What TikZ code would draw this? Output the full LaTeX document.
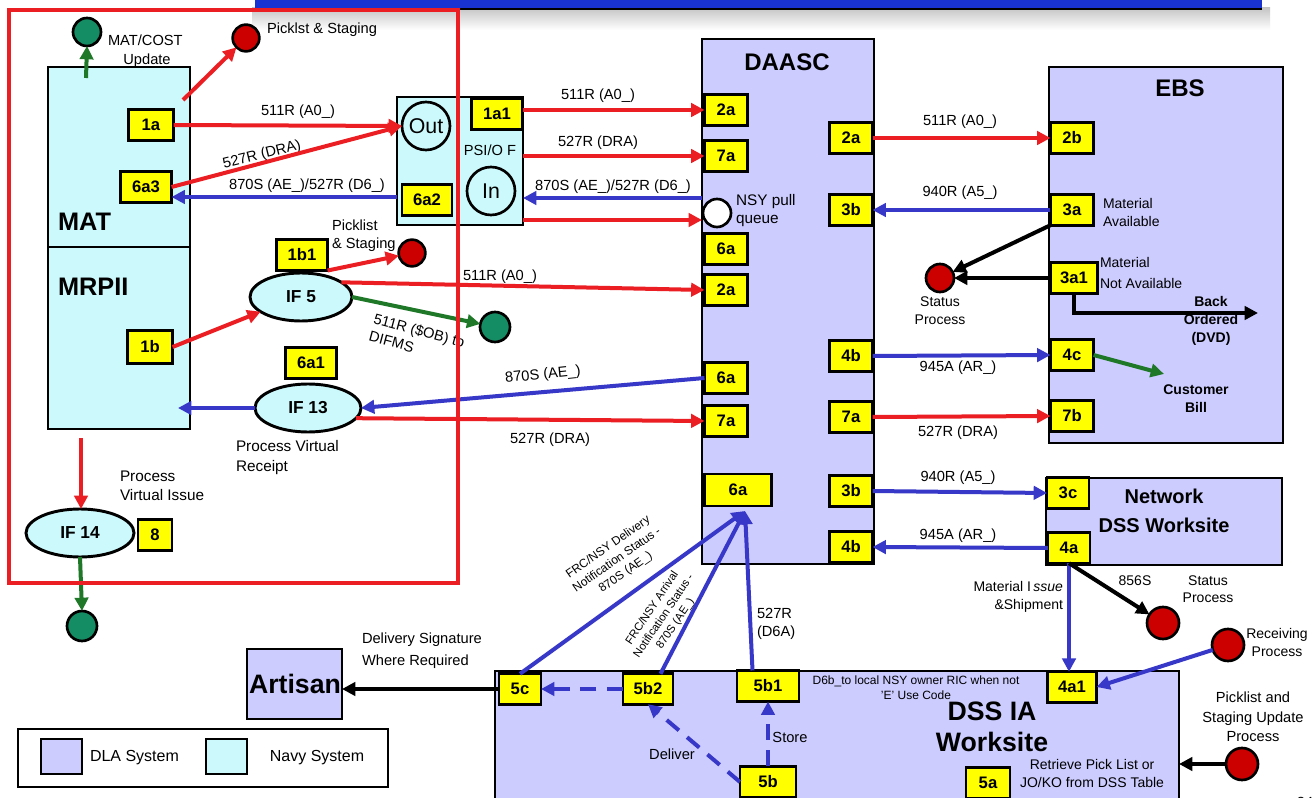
\documentclass[tikz,border=0pt]{standalone}
\usepackage{fontspec}
\setmainfont{Liberation Sans}
\usetikzlibrary{arrows.meta,shapes.geometric,calc,fit}
\newcommand\fsz[2]{\fontsize{#1}{#2}\selectfont}
\definecolor{navy}{RGB}{204,250,252}
\definecolor{dla}{RGB}{204,204,255}
\definecolor{ared}{RGB}{235,30,35}
\definecolor{ablue}{RGB}{55,55,200}
\definecolor{agreen}{RGB}{30,120,40}
\definecolor{gfill}{RGB}{20,140,100}
\definecolor{rfill}{RGB}{205,0,0}
\definecolor{bannerc}{RGB}{25,50,210}
\definecolor{yel}{RGB}{255,255,0}
\begin{document}
\begin{tikzpicture}[x=0.75pt,y=-0.75pt,
  every node/.style={inner sep=0pt,outer sep=0pt},
  lbl/.style={font=\fsz{11}{13.5}},
  sml/.style={font=\fsz{9}{11.5}},
  bld/.style={font=\bfseries\fsz{11}{13.5}},
  ybox/.style={draw,line width=2.2pt,fill=yel,minimum width=32.3pt,minimum height=22.8pt,font=\bfseries\fsz{12.5}{14}},
  navybox/.style={draw,line width=2.2pt,fill=navy,inner sep=0pt},
  dlabox/.style={draw,line width=2.2pt,fill=dla,inner sep=0pt},
  ell/.style={ellipse,draw,line width=2.2pt,fill=navy,minimum height=36pt,font=\bfseries\fsz{13}{15}},
  circ/.style={circle,draw,line width=2pt},
  gdot/.style={circ,fill=gfill,minimum size=21pt},
  rdot/.style={circ,fill=rfill,minimum size=20pt},
  conn/.style={line width=3pt,-{Triangle[length=10pt,width=10pt]}},
  rarr/.style={conn,draw=ared},
  barr/.style={conn,draw=ablue},
  garr/.style={conn,draw=agreen},
  karr/.style={conn,draw=black},
  dsh/.style={dash pattern=on 12pt off 8pt},
]
\clip (0,0) rectangle (1313,798);
\fill[white] (0,0) rectangle (1313,798);
% banner
\shade[top color=gray!45,bottom color=white] (252,8) rectangle (1270,30);
\fill[bannerc] (255,-2) rectangle (1262,9);
\draw[line width=1.5pt] (255,9) -- (1262,9);

% ---------- Navy side ----------
\node[lbl] (tupd) at (147,61) {Update};
\node[navybox,fit={(48,67) (190,429)}] (mat) {};
\draw[line width=1.5pt] (48,247) -- (190,247);
\node[font=\bfseries\fsz{19}{21},anchor=west] (tmat) at (58,222) {MAT};
\node[font=\bfseries\fsz{19}{21},anchor=west] (tmrp) at (58,287) {MRPII};
\node[lbl,anchor=west] (tmc) at (108,40) {MAT/COST};
\node[gdot] (gtop) at (87,32) {};
\node[rdot] (rtop) at (246,38) {};
\node[lbl,anchor=west] (tps) at (267,30) {Picklst \& Staging};
\node[ybox,minimum width=33.8pt,minimum height=23.3pt] (y1a) at (151,125) {1a};
\node[ybox,minimum width=38.3pt] (y6a3) at (146,187) {6a3};

\node[navybox,fit={(397,97) (523,225)}] (psi) {};
\node[circ,minimum size=36pt,font=\fsz{16}{18}] (out) at (426,126) {Out};
\node[circ,minimum size=36pt,font=\fsz{16}{18}] (in) at (491,191) {In};
\node[ybox,minimum width=38.3pt,minimum height=23.3pt] (y1a1) at (497,114) {1a1};
\node[ybox,minimum width=37.5pt] (y6a2) at (427,200) {6a2};
\node[lbl] (tpsi) at (490,150) {PSI/O F};

\node[ell,minimum width=76.5pt] (if5) at (301,297) {IF 5};
\node[ell,minimum width=79.5pt] (if13) at (308,408) {IF 13};
\node[ell,minimum width=81pt] (if14) at (80,533) {IF 14};
\node[ybox,minimum width=38.3pt,minimum height=23.3pt] (y1b1) at (302,255) {1b1};
\node[ybox,minimum width=33.8pt,minimum height=24.8pt] (y1b) at (150,347) {1b};
\node[ybox,minimum width=38.3pt] (y6a1) at (311,363) {6a1};
\node[ybox,minimum width=25.5pt,minimum height=23.3pt] (y8) at (155,535) {8};
\node[rdot] (rpick) at (412,253) {};
\node[gdot,minimum size=22.5pt] (gdifms) at (495,327) {};
\node[gdot,minimum size=22.5pt] (gbot) at (82,626) {};

% ---------- DAASC ----------
\node[dlabox,fit={(702,39) (874,564)}] (daasc) {};
\node[font=\bfseries\fsz{18}{20}] (tdaasc) at (787,62) {DAASC};
\node[ybox] (dl1) at (726,110) {2a};
\node[ybox] (dl2) at (726,156) {7a};
\node[circ,fill=white,minimum size=21pt] (nsy) at (717,213) {};
\node[ybox] (dl3) at (726,249) {6a};
\node[ybox] (dl4) at (726,290) {2a};
\node[ybox] (dl5) at (726,378) {6a};
\node[ybox] (dl6) at (726,421) {7a};
\node[ybox,minimum width=50.3pt,minimum height=24pt] (dw) at (738,490) {6a};
\node[ybox] (dr1) at (851,138) {2a};
\node[ybox] (dr2) at (851,210) {3b};
\node[ybox] (dr3) at (851,356) {4b};
\node[ybox] (dr4) at (851,417) {7a};
\node[ybox] (dr5) at (851,491) {3b};
\node[ybox] (dr6) at (851,547) {4b};

% ---------- EBS ----------
\node[dlabox,fit={(1049,67) (1283,443)}] (ebs) {};
\node[font=\bfseries\fsz{18}{20}] (tebs) at (1180,88) {EBS};
\node[ybox] (e1) at (1072,138) {2b};
\node[ybox] (e2) at (1072,210) {3a};
\node[ybox,minimum width=35.3pt] (e3) at (1074,278) {3a1};
\node[ybox] (e4) at (1072,355) {4c};
\node[ybox] (e5) at (1072,416) {7b};
\node[rdot,minimum size=21pt] (rstat1) at (940,278) {};

% ---------- Network DSS ----------
\node[dlabox,fit={(1046,478) (1282,565)}] (net) {};
\node[ybox,minimum width=31.5pt] (n1) at (1068,493) {3c};
\node[ybox,minimum width=31.5pt] (n2) at (1069,548) {4a};
\node[rdot,minimum size=24pt] (rstat2) at (1163,623) {};
\node[rdot,minimum size=24pt] (rrecv) at (1228,645) {};
\node[rdot,minimum size=24pt] (rps) at (1242,764) {};

% ---------- DSS IA ----------
\node[dlabox,fit={(495,671) (1179,815)}] (dssia) {};
\node[ybox,minimum width=36.8pt] (y4a1) at (1072,687) {4a1};
\node[ybox,minimum width=33pt,minimum height=23.3pt] (y5a) at (988,783) {5a};
\node[ybox,minimum width=31.5pt] (y5c) at (520,689) {5c};
\node[ybox,minimum width=37.5pt] (y5b2) at (648,689) {5b2};
\node[ybox,minimum width=46.5pt,minimum height=23.3pt] (y5b1) at (768,686) {5b1};
\node[ybox,minimum width=42pt,minimum height=23.3pt] (y5b) at (768,782) {5b};

\node[dlabox,fit={(247,649) (342,719)}] (art) {};
\node[font=\bfseries\fsz{20}{22}] (tart) at (295,684) {Artisan};

% legend
\node[draw,line width=2.2pt,fill=white,fit={(18,729) (388,787)}] (leg) {};
\node[dlabox,fit={(41,739) (82,774)}] (legd) {};
\node[navybox,fit={(206,739) (247,774)}] (legn) {};
\node[font=\fsz{12}{14},anchor=west] (tlegd) at (90,758) {DLA System};
\node[font=\fsz{12}{14}] (tlegn) at (317,758) {Navy System};

% ---------- labels ----------
\node[lbl] (l1) at (298,112) {511R (A0\_)};
\node[lbl,rotate=14] (l2) at (262,155) {527R (DRA)};
\node[lbl] (l3) at (307,186) {870S (AE\_)/527R (D6\_)};
\node[lbl] (l4) at (598,96) {511R (A0\_)};
\node[lbl] (l5) at (598,143) {527R (DRA)};
\node[lbl] (l6) at (613,187) {870S (AE\_)/527R (D6\_)};
\node[font=\fsz{11.5}{13.5},align=left,anchor=west] (l7) at (736,211) {NSY pull\\queue};
\node[lbl,align=left,anchor=west] (l8) at (332,236) {Picklist\\\& Staging};
\node[lbl] (l9) at (500,277) {511R (A0\_)};
\node[lbl,align=left,rotate=-15] (l10) at (417,339) {511R (\$OB) to\\DIFMS};
\node[lbl,rotate=6] (l11) at (543,375) {870S (AE\_)};
\node[lbl] (l12) at (550,440) {527R (DRA)};
\node[font=\fsz{11.5}{15},align=left,anchor=west] (l13) at (236,458) {Process Virtual\\Receipt};
\node[font=\fsz{11.5}{14.5},align=left,anchor=west] (l14) at (120,486) {Process\\Virtual Issue};
\node[lbl] (r1) at (960,122) {511R (A0\_)};
\node[lbl] (r2) at (960,193) {940R (A5\_)};
\node[lbl] (r3) at (958,368) {945A (AR\_)};
\node[lbl] (r4) at (958,433) {527R (DRA)};
\node[font=\fsz{10.5}{13.5},align=left,anchor=west] (r5) at (1103,212) {Material\\Available};
\node[font=\fsz{10.5}{15.5},align=left,anchor=west] (r6) at (1100,273) {Material\\Not Available};
\node[font=\fsz{10.5}{13.5},align=center] (r7) at (940,311) {Status\\Process};
\node[font=\bfseries\fsz{10.5}{13.5},align=center] (r8) at (1211,321) {Back\\Ordered\\(DVD)};
\node[font=\bfseries\fsz{10.5}{13.5},align=center] (r9) at (1196,399) {Customer\\Bill};
\node[lbl] (r10) at (958,478) {940R (A5\_)};
\node[lbl] (r11) at (958,536) {945A (AR\_)};
\node[font=\bfseries\fsz{15}{21.5},align=center] (r12) at (1164,511) {Network\\DSS Worksite};
\node[font=\fsz{10.5}{14},align=right,anchor=east] (r13) at (1063,597) {Material I\,\textit{ssue}\\\&Shipment};
\node[font=\fsz{10.5}{13}] (r14) at (1135,581) {856S};
\node[font=\fsz{10.5}{13},align=center] (r15) at (1208,589) {Status\\Process};
\node[font=\fsz{10.5}{13.5},align=center] (r16) at (1277,642) {Receiving\\Process};
\node[font=\fsz{11}{14.6},align=center] (r17) at (1253,717) {Picklist and\\Staging Update\\Process};
\node[font=\fsz{10.5}{13.5},align=center] (r18) at (1092,773) {Retrieve Pick List or\\JO/KO from DSS Table};
\node[font=\bfseries\fsz{20}{23},align=center] (r19) at (992,727) {DSS IA\\Worksite};
\node[sml,align=center] (r20) at (916,688) {D6b\_to local NSY owner RIC when not\\'E' Use Code};
\node[font=\fsz{11}{13.5},align=left,anchor=west] (r21) at (757,624) {527R\\(D6A)};
\node[lbl] (r22) at (790,737) {Store};
\node[lbl] (r23) at (672,754) {Deliver};
\node[sml,align=center,rotate=35] (r24) at (617,560) {FRC/NSY Delivery\\Notification Status -\\870S (AE\_)};
\node[font=\fsz{8.5}{10.5},align=center,rotate=56] (r25) at (664,616) {FRC/NSY Arrival\\Notification Status -\\870S (AE\_)};
\node[lbl,align=left,anchor=west,font=\fsz{11}{16.5}] (r27) at (362,651) {Delivery Signature\\Where Required};
\node[lbl] (r30) at (1305,802) {24};

% ---------- connectors ----------
\coordinate (gstart) at (86,78);
\draw[garr] (gstart) -- (gtop.south);
\coordinate (rstart) at (183,100);
\draw[rarr] (rstart) -- (rtop);
\draw[rarr] (y1a.east) -- (out.west);
\draw[rarr] (y6a3.east) -- (out.west);
\draw[barr] (psi.west |- 0,197) -- (y6a3.east |- 0,197);
\draw[rarr] (y1a1.east |- dl1.west) -- (dl1.west);
\draw[rarr] (psi.east |- dl2.west) -- (dl2.west);
\draw[barr] (daasc.west |- 0,198) -- (psi.east |- 0,198);
\draw[rarr] (psi.east |- 0,220) -- (daasc.west |- 0,220);
\draw[rarr] (if5.20) -- (dl4.west);
\draw[rarr] (y1b.east) -- (if5.200);
\draw[rarr] (y1b1.south east) -- (rpick);
\draw[garr] (if5.east) -- (gdifms);
\draw[barr] (dl5.west) -- (if13.east);
\draw[rarr] (if13.-12) -- (dl6.west);
\coordinate (matin) at (178,408);
\draw[barr] (if13.west) -- (matin);
\coordinate (ms) at (81,438);
\draw[rarr] (ms) -- (ms |- if14.north);
\draw[garr] (if14.south) -- (gbot.north);

\draw[rarr] (dr1.east) -- (e1.west);
\draw[barr] (e2.west) -- (dr2.east);
\draw[karr] (e2.south west) -- (rstat1);
\draw[karr] (e3.west) -- (rstat1.east);
\coordinate (bo) at (1258,313);
\draw[karr] (e3.south) |- (bo);
\draw[barr] (dr3.east) -- (e4.west);
\coordinate (cb) at (1164,374);
\draw[garr] (e4.east) -- (cb);
\draw[rarr] (dr4.east) -- (e5.west);
\draw[barr] (dr5.east) -- (n1.west);
\draw[barr] (n2.west) -- (dr6.east);
\draw[barr] (n2.south) -- (n2.south |- y4a1.north);
\draw[karr] (n2.south) -- (rstat2);
\draw[barr] (rrecv) -- (y4a1.east);
\draw[karr] (rps.west) -- (dssia.east |- rps.west);

\coordinate (conv) at (745,511);
\draw[barr] (y5c.north) -- (conv);
\draw[barr] ($(y5b2.north)!0.5!(y5b2.north east)$) -- (conv);
\draw[barr] ($(y5b1.north)!0.5!(y5b1.north west)$) -- (conv);
\draw[barr,dsh] (y5b2.west) -- (y5c.east);
\draw[barr,dsh] (y5b.west) -- (y5b2.south);
\draw[barr,dsh] (y5b.north) -- (y5b1.south);
\draw[karr] (y5c.west) -- (y5c.west -| art.east);

% red frame
\draw[ared,line width=2.5pt] (9,10) rectangle (458,583);
\end{tikzpicture}
\end{document}
